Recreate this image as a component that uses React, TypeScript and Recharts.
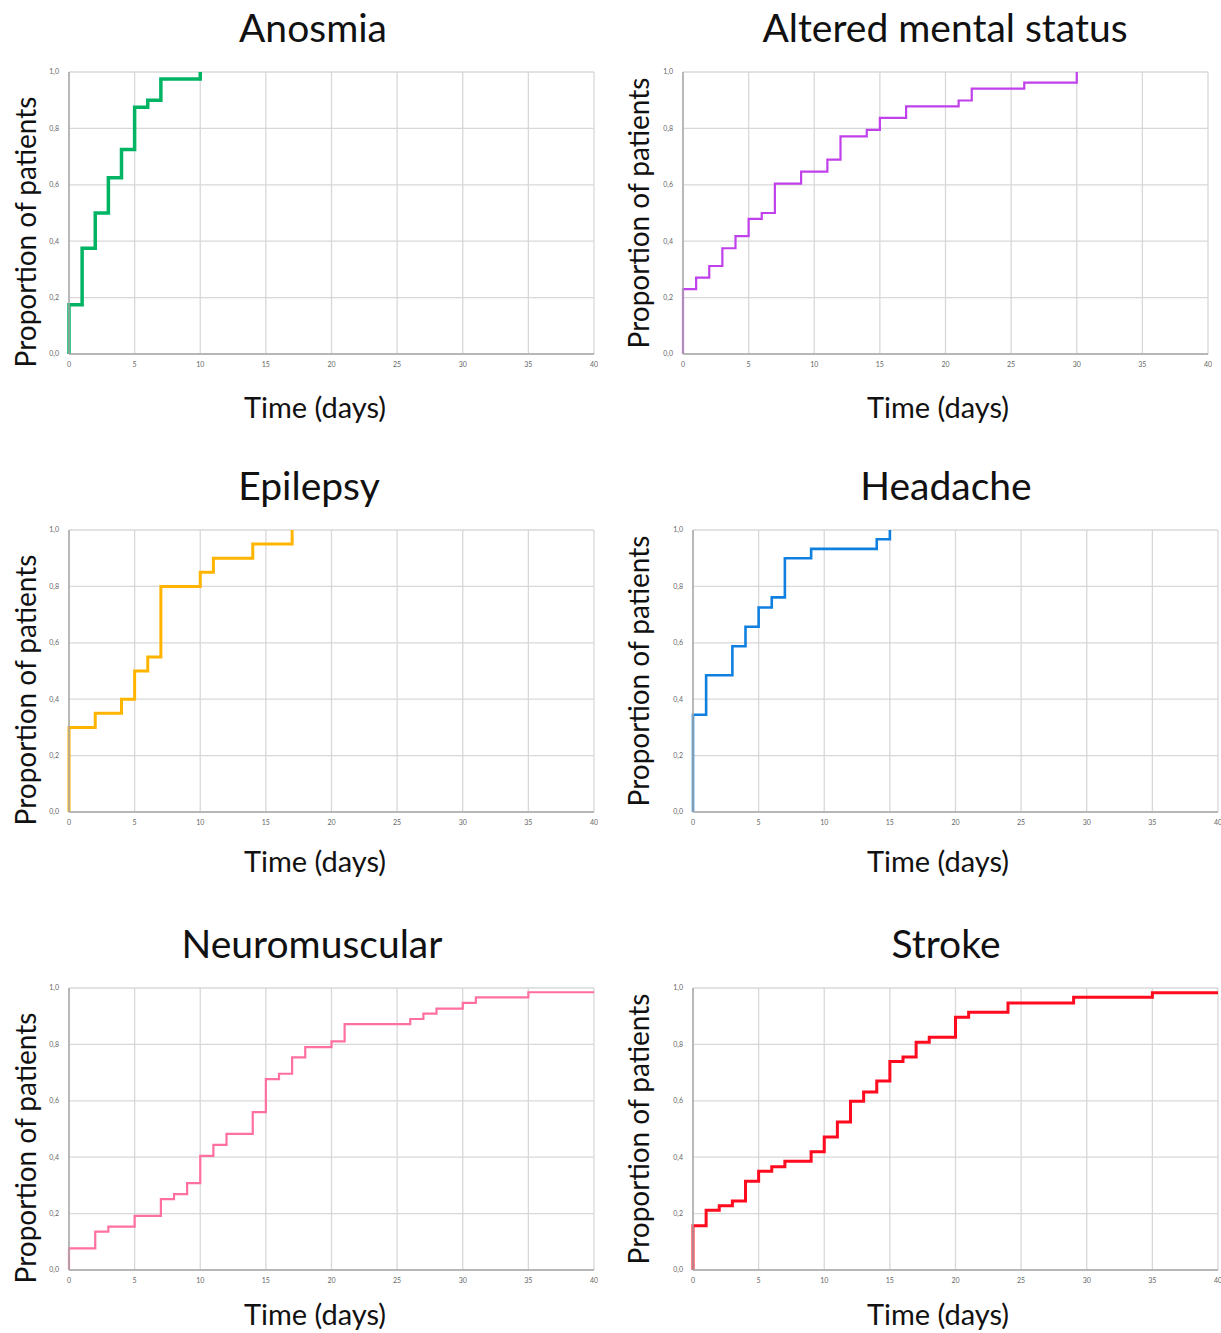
import React from 'react';
import { LineChart, Line, XAxis, YAxis, CartesianGrid } from 'recharts';

// days at which the cumulative proportion steps up, and the level after each step
const anosmiaDays = [0, 1, 2, 3, 4, 5, 6, 7, 10];
const anosmiaProp = [0.175, 0.375, 0.5, 0.625, 0.725, 0.875, 0.9, 0.975, 1.0];

const amsDays = [0, 1, 2, 3, 4, 5, 6, 7, 9, 11, 12, 14, 15, 17, 21, 22, 26, 30];
const amsProp = [0.23, 0.271, 0.312, 0.375, 0.418, 0.479, 0.5, 0.604, 0.647, 0.689, 0.772, 0.795, 0.837, 0.878, 0.899, 0.941, 0.962, 1.0];

const epilepsyDays = [0, 2, 4, 5, 6, 7, 10, 11, 14, 17];
const epilepsyProp = [0.3, 0.35, 0.4, 0.5, 0.55, 0.8, 0.85, 0.9, 0.95, 1.0];

const headacheDays = [0, 1, 3, 4, 5, 6, 7, 9, 14, 15];
const headacheProp = [0.345, 0.485, 0.588, 0.657, 0.725, 0.761, 0.9, 0.933, 0.967, 1.0];

const neuroDays = [0, 2, 3, 5, 7, 8, 9, 10, 11, 12, 14, 15, 16, 17, 18, 20, 21, 26, 27, 28, 30, 31, 35, 40];
const neuroProp = [0.077, 0.136, 0.154, 0.192, 0.251, 0.269, 0.308, 0.405, 0.444, 0.483, 0.56, 0.677, 0.696, 0.754, 0.79, 0.811, 0.872, 0.89, 0.909, 0.927, 0.947, 0.967, 0.985, 0.985];

const strokeDays = [0, 1, 2, 3, 4, 5, 6, 7, 9, 10, 11, 12, 13, 14, 15, 16, 17, 18, 20, 21, 24, 29, 35, 40];
const strokeProp = [0.157, 0.212, 0.228, 0.245, 0.315, 0.35, 0.366, 0.386, 0.419, 0.472, 0.525, 0.598, 0.631, 0.67, 0.739, 0.755, 0.808, 0.825, 0.896, 0.914, 0.947, 0.967, 0.983, 0.983];

const xTicks = [0, 5, 10, 15, 20, 25, 30, 35, 40];
const yTicks = [0, 0.2, 0.4, 0.6, 0.8, 1.0];

const FONT = 'Lato, "Open Sans", sans-serif';
const PLOT_W = 525;
const PLOT_H = 282;

function toSteps(days: number[], props: number[]) {
  return [{ t: 0, p: 0 }, ...days.map((d, i) => ({ t: d, p: props[i] }))];
}

type PanelProps = {
  title: string;
  days: number[];
  props: number[];
  color: string;
  lineWidth: number;
  plotLeft: number;
  plotTop: number;
  titleX: number;
  labelX: number;
  labelY: number;
  yLabelX: number;
  yLabelShift: number;
};

function Panel({ title, days, props, color, lineWidth, plotLeft, plotTop, titleX, labelX, labelY, yLabelX, yLabelShift }: PanelProps) {
  const data = toSteps(days, props);
  const ml = 4;
  const yw = 30;
  return (
    <>
      <div
        style={{
          position: 'absolute',
          left: titleX,
          top: plotTop - 45,
          transform: 'translate(-50%, -50%)',
          fontFamily: FONT,
          fontSize: 39,
          whiteSpace: 'nowrap',
          color: '#111',
        }}
      >
        {title}
      </div>
      <div
        style={{
          position: 'absolute',
          left: yLabelX,
          top: plotTop + PLOT_H / 2 + yLabelShift,
          transform: 'translate(-50%, -50%) rotate(-90deg)',
          fontFamily: FONT,
          fontSize: 28,
          whiteSpace: 'nowrap',
          color: '#111',
        }}
      >
        Proportion of patients
      </div>
      <div
        style={{
          position: 'absolute',
          left: labelX,
          top: labelY,
          transform: 'translate(-50%, -50%)',
          fontFamily: FONT,
          fontSize: 29,
          whiteSpace: 'nowrap',
          color: '#111',
        }}
      >
        Time (days)
      </div>
      <div style={{ position: 'absolute', left: plotLeft - ml - yw, top: plotTop - 6 }}>
        <LineChart
          width={ml + yw + PLOT_W + 4}
          height={6 + PLOT_H + 16 + 4}
          data={data}
          margin={{ top: 6, right: 4, left: ml, bottom: 4 }}
        >
          <CartesianGrid stroke="#d8d8d8" strokeWidth={1.3} />
          <XAxis
            dataKey="t"
            type="number"
            domain={[0, 40]}
            ticks={xTicks}
            height={16}
            tickLine={false}
            axisLine={{ stroke: '#a8a8a8', strokeWidth: 1.5 }}
            tick={{ fontSize: 7, fill: '#666', fontFamily: FONT }}
            tickMargin={2}
          />
          <YAxis
            type="number"
            domain={[0, 1]}
            ticks={yTicks}
            width={yw}
            tickLine={false}
            axisLine={{ stroke: '#a8a8a8', strokeWidth: 1.5 }}
            tick={{ fontSize: 7, fill: '#666', fontFamily: FONT }}
            tickFormatter={(v: number) => v.toFixed(1).replace('.', ',')}
            tickMargin={4}
          />
          <Line
            dataKey="p"
            type="stepAfter"
            stroke={color}
            strokeWidth={lineWidth}
            dot={false}
            isAnimationActive={false}
          />
        </LineChart>
      </div>
    </>
  );
}

export default function App() {
  return (
    <div style={{ position: 'absolute', left: 0, top: 0, width: 1221, height: 1333, background: '#fff', overflow: 'hidden' }}>
      <Panel title="Anosmia" days={anosmiaDays} props={anosmiaProp} color="#00b464" lineWidth={3.5}
        plotLeft={69} plotTop={72} titleX={313} labelX={315} labelY={406} yLabelX={25} yLabelShift={19} />
      <Panel title="Altered mental status" days={amsDays} props={amsProp} color="#c040ec" lineWidth={2.2}
        plotLeft={683} plotTop={72} titleX={945} labelX={938} labelY={406} yLabelX={638} yLabelShift={0} />
      <Panel title="Epilepsy" days={epilepsyDays} props={epilepsyProp} color="#ffb400" lineWidth={3}
        plotLeft={69} plotTop={530} titleX={309} labelX={315} labelY={860} yLabelX={25} yLabelShift={19} />
      <Panel title="Headache" days={headacheDays} props={headacheProp} color="#1080e0" lineWidth={2.6}
        plotLeft={693} plotTop={530} titleX={946} labelX={938} labelY={860} yLabelX={638} yLabelShift={0} />
      <Panel title="Neuromuscular" days={neuroDays} props={neuroProp} color="#ff70a0" lineWidth={2.2}
        plotLeft={69} plotTop={988} titleX={312} labelX={315} labelY={1313} yLabelX={25} yLabelShift={19} />
      <Panel title="Stroke" days={strokeDays} props={strokeProp} color="#ff0a1e" lineWidth={3}
        plotLeft={693} plotTop={988} titleX={946} labelX={938} labelY={1313} yLabelX={638} yLabelShift={0} />
    </div>
  );
}
